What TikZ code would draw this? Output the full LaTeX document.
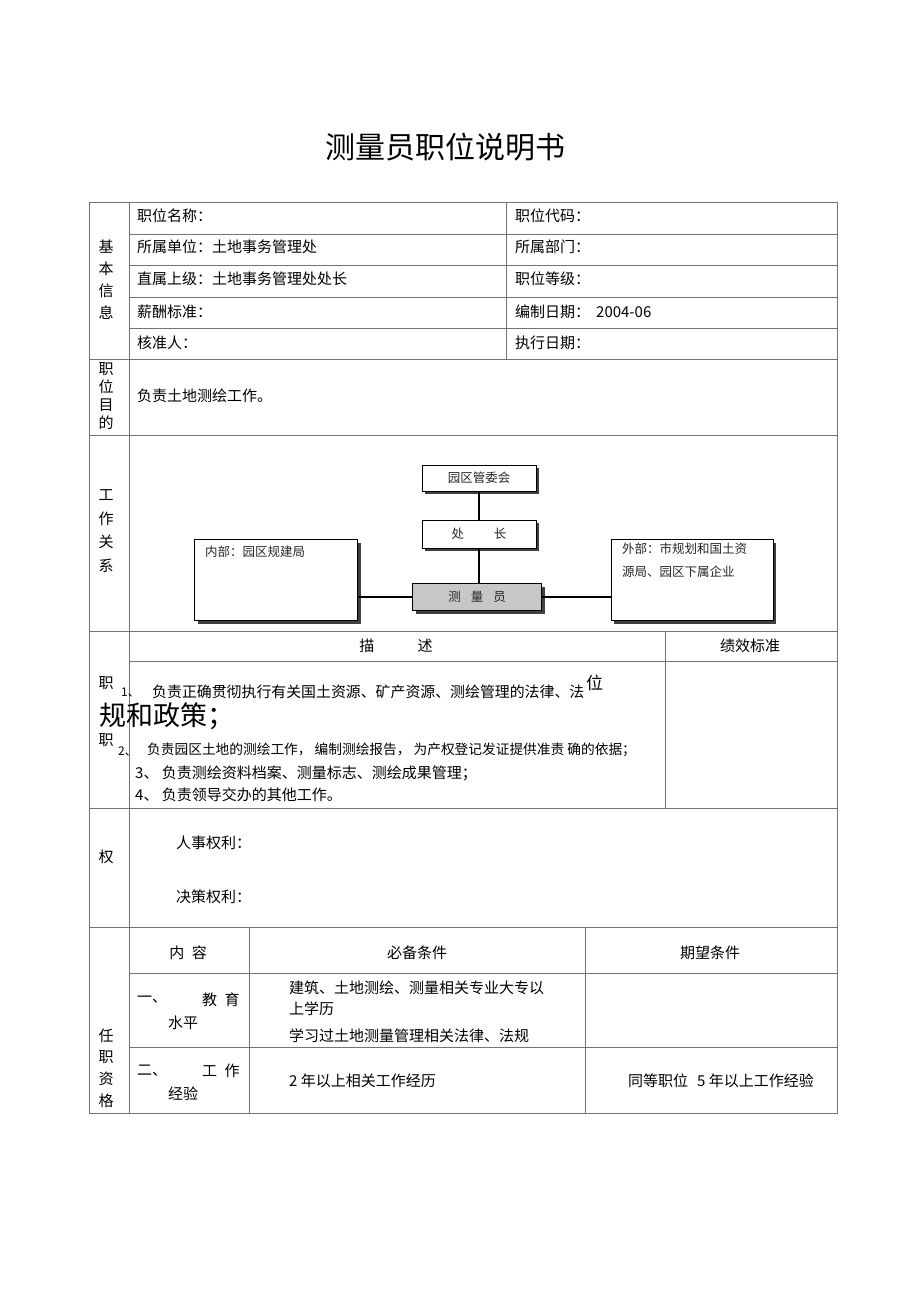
\documentclass[tikz,border=0pt]{standalone}
\usepackage{fontspec}
\setmainfont{Noto Sans CJK SC}
\usetikzlibrary{shadows}
\begin{document}
\begin{tikzpicture}[x=1pt, y=-1pt,
  grid/.style={draw=black!55, line width=0.9pt},
  txt/.style={anchor=west, inner sep=0, font=\fontsize{15}{18}\selectfont},
  mid/.style={inner sep=0, font=\fontsize{15}{18}\selectfont},
  side/.style={inner sep=0, align=center, font=\fontsize{15}{#1}\selectfont},
  orgbox/.style={draw, line width=0.9pt, fill=white, drop shadow={shadow xshift=3pt, shadow yshift=-3pt, fill=black!75, opacity=1}},
  orgtxt/.style={inner sep=0, font=\fontsize{12.5}{23}\selectfont, text=black!85}]
    \useasboundingbox (0,0) rectangle (920,1303);
    \node[font=\fontsize{30}{36}\selectfont] (title) at (445,147) {测量员职位说明书};
    % table grid
    \draw[grid] (89,202) rectangle (837,1113);
    \draw[grid] (129,202) -- (129,1113);
    \draw[grid] (89,359) -- (837,359);
    \draw[grid] (89,435) -- (837,435);
    \draw[grid] (89,631) -- (837,631);
    \draw[grid] (89,808) -- (837,808);
    \draw[grid] (89,927) -- (837,927);
    \draw[grid] (129,234) -- (837,234);
    \draw[grid] (129,265) -- (837,265);
    \draw[grid] (129,297) -- (837,297);
    \draw[grid] (129,328) -- (837,328);
    \draw[grid] (506,202) -- (506,359);
    \draw[grid] (129,661) -- (837,661);
    \draw[grid] (665,631) -- (665,808);
    \draw[grid] (129,973) -- (837,973);
    \draw[grid] (129,1047) -- (837,1047);
    \draw[grid] (249,927) -- (249,1113);
    \draw[grid] (585,927) -- (585,1113);
    % left labels
    \node[side=22] (basic) at (106,280) {基\\本\\信\\息};
    \node[side=18] (aim) at (106,396) {职\\位\\目\\的};
    \node[side=23.5] (rel) at (106,531) {工\\作\\关\\系};
    \node[mid] (duty1) at (106,683) {职};
    \node[mid] (duty2) at (106,740) {职};
    \node[mid] (power) at (106,857) {权};
    \node[side=21.7] (qual) at (106,1068) {任\\职\\资\\格};
    % basic info
    \node[txt] (name) at (137,216) {职位名称：};
    \node[txt] (code) at (515,216) {职位代码：};
    \node[txt] (unit) at (137,247) {所属单位：土地事务管理处};
    \node[txt] (dept) at (515,247) {所属部门：};
    \node[txt] (boss) at (137,279) {直属上级：土地事务管理处处长};
    \node[txt] (grade) at (515,279) {职位等级：};
    \node[txt] (pay) at (137,312) {薪酬标准：};
    \node[txt] (date) at (515,312) {编制日期：\hspace{0.4em}2004-06};
    \node[txt] (check) at (137,343) {核准人：};
    \node[txt] (exec) at (515,343) {执行日期：};
    \node[txt] (goal) at (137,396) {负责土地测绘工作。};
    % work relations
    \node[orgbox, minimum width=114pt, minimum height=26pt] (board) at (479,478) {};
    \node[orgtxt] (boardtxt) at (board) {园区管委会};
    \node[orgbox, minimum width=114pt, minimum height=28pt] (head) at (479,534) {};
    \node[orgtxt] (headtxt) at (head) {处\hspace{2.4em}长};
    \node[orgbox, fill=black!22, minimum width=129pt, minimum height=27pt] (me) at (477,597) {};
    \node[orgtxt] (metxt) at (me) {测\hspace{0.8em}量\hspace{0.8em}员};
    \node[orgbox, minimum width=163pt, minimum height=81pt] (inner) at (276,580) {};
    \node[orgtxt, anchor=west] (innertxt) at (205,552) {内部：园区规建局};
    \node[orgbox, minimum width=162pt, minimum height=81pt] (outer) at (692,580) {};
    \node[orgtxt, anchor=north west, align=left] (outertxt) at (622,543) {外部：市规划和国土资\\源局、园区下属企业};
    \draw[line width=1.2pt] (board) -- (head);
    \draw[line width=1.2pt] (head.south) -- (head.south |- me.north);
    \draw[line width=1.2pt] (me.west) -- (me.west -| inner.east);
    \draw[line width=1.2pt] (me.east) -- (me.east -| outer.west);
    % duties
    \node[mid] (desc) at (396,646) {描\hspace{2.9em}述};
    \node[mid] (kpi) at (750,646) {绩效标准};
    \node[inner sep=0, anchor=west, font=\fontsize{12}{14}\selectfont] (n1) at (121,693) {1、};
    \node[inner sep=0, anchor=west, font=\fontsize{14.9}{16}\selectfont] (d1) at (152,692) {负责正确贯彻执行有关国土资源、矿产资源、测绘管理的法律、法};
    \node[inner sep=0, anchor=west, font=\fontsize{17}{20}\selectfont] (d1b) at (586,683) {位};
    \node[inner sep=0, anchor=west, font=\fontsize{27}{30}\selectfont] (d1c) at (99,716) {规和政策；};
    \node[inner sep=0, anchor=west, font=\fontsize{12}{14}\selectfont] (n2) at (118,751) {2、};
    \node[inner sep=0, anchor=west, font=\fontsize{13.7}{15}\selectfont] (d2) at (147,750) {负责园区土地的测绘工作，\ 编制测绘报告，\ 为产权登记发证提供准责\ 确的依据；};
    \node[txt] (d3) at (135,773) {3、\ 负责测绘资料档案、测量标志、测绘成果管理；};
    \node[txt] (d4) at (135,795) {4、\ 负责领导交办的其他工作。};
    % rights
    \node[txt] (staff) at (176,843) {人事权利：};
    \node[txt] (decide) at (176,897) {决策权利：};
    % qualifications
    \node[mid] (content) at (188,953) {内\hspace{0.5em}容};
    \node[mid] (must) at (417,953) {必备条件};
    \node[mid] (hope) at (710,953) {期望条件};
    \node[txt] (edu1) at (137,1000) {一、};
    \node[txt] (edu2) at (202,1000) {教\hspace{0.5em}育};
    \node[txt] (edu3) at (168,1023) {水平};
    \node[txt] (edureq) at (289,988) {建筑、土地测绘、测量相关专业大专以};
    \node[txt] (edureq2) at (289,1009) {上学历};
    \node[txt] (edureq3) at (289,1036) {学习过土地测量管理相关法律、法规};
    \node[txt] (exp1) at (137,1071) {二、};
    \node[txt] (exp2) at (202,1071) {工\hspace{0.5em}作};
    \node[txt] (exp3) at (168,1094) {经验};
    \node[txt] (expreq) at (289,1081) {2 年以上相关工作经历};
    \node[txt] (exphope) at (628,1081) {同等职位\hspace{0.6em}5 年以上工作经验};
\end{tikzpicture}
\end{document}
